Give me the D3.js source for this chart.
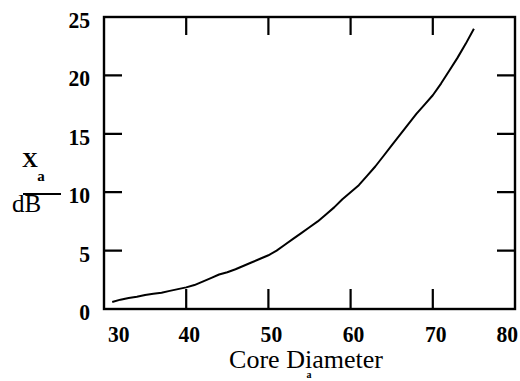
<!DOCTYPE html>
<html>
<head>
<meta charset="utf-8">
<script src="https://cdn.jsdelivr.net/npm/d3@7"></script>
<style>
  html, body { margin: 0; padding: 0; background: #fff; }
  svg { display: block; }
</style>
</head>
<body>
<svg id="chart" width="520" height="381"></svg>
<script>
// Attenuation versus core diameter
const coreDiameter = [31, 32, 33, 34, 35, 36, 37, 38, 39, 40, 41, 42, 43, 44, 45, 46, 47, 48, 49, 50,
  51, 52, 53, 54, 55, 56, 57, 58, 59, 60, 61, 62, 63, 64, 65, 66, 67, 68, 69, 70, 71, 72, 73, 74, 75];
const attenuationDb = [0.6, 0.8, 0.95, 1.05, 1.2, 1.3, 1.4, 1.55, 1.7, 1.85, 2.05, 2.35, 2.65, 2.95, 3.15,
  3.4, 3.7, 4.0, 4.3, 4.6, 5.0, 5.5, 6.0, 6.5, 7.0, 7.5, 8.1, 8.7, 9.4, 10.0, 10.6, 11.4, 12.2, 13.1,
  14.0, 14.9, 15.8, 16.7, 17.5, 18.3, 19.3, 20.4, 21.5, 22.7, 24.0];
const xTickLabels = [30, 40, 50, 60, 70, 80];
const yTickLabels = [0, 5, 10, 15, 20, 25];

const svg = d3.select("#chart");
const plotLeft = 104, plotRight = 515, plotTop = 17, plotBottom = 309;

const x = d3.scaleLinear().domain([30, 80]).range([plotLeft, plotRight]);
const y = d3.scaleLinear().domain([0, 25]).range([plotBottom, plotTop]);

const innerX = xTickLabels.slice(1, -1);
const innerY = yTickLabels.slice(1, -1);

// inward tick marks on all four sides, one path
const tickPath = d3.path();
innerX.forEach(v => {
  tickPath.moveTo(x(v), plotBottom); tickPath.lineTo(x(v), plotBottom - 20);
  tickPath.moveTo(x(v), plotTop); tickPath.lineTo(x(v), plotTop + 18);
});
innerY.forEach(v => {
  tickPath.moveTo(plotLeft, y(v)); tickPath.lineTo(plotLeft + 18, y(v));
  tickPath.moveTo(plotRight, y(v)); tickPath.lineTo(plotRight - 18, y(v));
});
svg.append("path")
  .attr("d", tickPath.toString())
  .attr("fill", "none")
  .style("stroke", "#000")
  .style("stroke-width", "2.2px");

// plot frame
svg.append("rect")
  .attr("x", plotLeft).attr("y", plotTop)
  .attr("width", plotRight - plotLeft).attr("height", plotBottom - plotTop)
  .attr("fill", "none").attr("stroke", "#000").attr("stroke-width", 2.4);

// curve
const curve = d3.line().x((d, i) => x(coreDiameter[i])).y(d => y(d));
svg.append("path")
  .datum(attenuationDb)
  .attr("d", curve)
  .attr("fill", "none")
  .attr("stroke", "#000")
  .attr("stroke-width", 2)
  .attr("stroke-linejoin", "round");

// tick labels
const tickFont = "Liberation Serif, Times New Roman, serif";
svg.append("g").selectAll("text")
  .data(yTickLabels)
  .join("text")
  .attr("transform", d => `translate(90,${y(d) + 11}) scale(0.9,1)`)
  .attr("text-anchor", "end")
  .attr("font-family", tickFont)
  .attr("font-weight", "bold")
  .attr("font-size", 24)
  .text(d => d);

svg.append("g").selectAll("text")
  .data(xTickLabels)
  .join("text")
  .attr("transform", (d, i) => {
    const px = i === 0 ? x(d) + 4 : x(d) + 3;
    return `translate(${px},342) scale(0.9,1)`;
  })
  .attr("text-anchor", (d, i) => i === 0 ? "start" : i === xTickLabels.length - 1 ? "end" : "middle")
  .attr("font-family", tickFont)
  .attr("font-weight", "bold")
  .attr("font-size", 24)
  .text(d => d);

// x-axis title
svg.append("text")
  .attr("x", 306).attr("y", 368)
  .attr("text-anchor", "middle")
  .attr("font-family", tickFont)
  .attr("font-size", 26)
  .text("Core Diameter");
svg.append("text")
  .attr("x", 309).attr("y", 378)
  .attr("text-anchor", "middle")
  .attr("font-family", tickFont)
  .attr("font-weight", "bold")
  .attr("font-size", 10)
  .text("a");

// y-axis title: X_a over dB
svg.append("text")
  .attr("x", 30).attr("y", 167)
  .attr("text-anchor", "middle")
  .attr("font-family", tickFont)
  .attr("font-weight", "bold")
  .attr("font-size", 22)
  .text("X");
svg.append("text")
  .attr("x", 41).attr("y", 181)
  .attr("text-anchor", "middle")
  .attr("font-family", tickFont)
  .attr("font-weight", "bold")
  .attr("font-size", 15)
  .text("a");
svg.append("line")
  .attr("x1", 23).attr("x2", 61)
  .attr("y1", 194).attr("y2", 194)
  .attr("stroke", "#000").attr("stroke-width", 2);
svg.append("text")
  .attr("x", 12).attr("y", 212)
  .attr("font-family", tickFont)
  .attr("font-size", 25)
  .text("dB");
</script>
</body>
</html>
